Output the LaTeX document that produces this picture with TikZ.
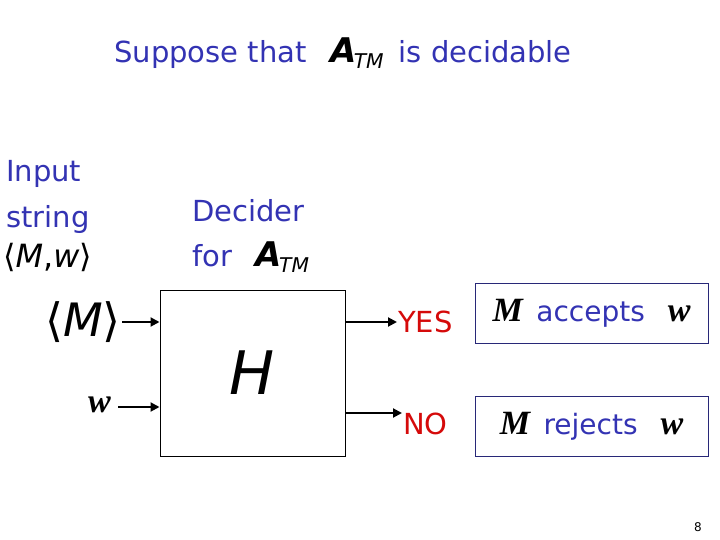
\documentclass[tikz,border=0pt]{standalone}
\usepackage{fontspec}
\usetikzlibrary{arrows.meta}
\setmainfont{DejaVu Sans}
\setsansfont{DejaVu Sans}
\newfontfamily\symbolfont{Liberation Serif}
\definecolor{slideblue}{RGB}{51,51,179}
\definecolor{slidered}{RGB}{213,10,10}
\definecolor{boxblue}{RGB}{40,40,120}
\newcommand{\atmname}{{\fontsize{34}{36}\selectfont\bfseries\itshape A}\kern-0.1em\textsubscript{\itshape TM}}
\newcommand{\bigsym}[1]{{\color{black}\fontsize{34}{38}\selectfont\symbolfont\bfseries\itshape #1}}
\begin{document}
\begin{tikzpicture}[x=1pt,y=-1pt,
    words/.style={text=slideblue, font=\fontsize{29}{33}\selectfont, inner sep=1pt},
    answer/.style={text=slidered, font=\fontsize{29}{33}\selectfont, inner sep=1pt},
    resultbox/.style={draw=boxblue, line width=0.8pt, minimum width=233, minimum height=60, text=slideblue, font=\fontsize{28}{32}\selectfont},
    feed/.style={-{Triangle[length=9pt,width=9pt]}, line width=2pt}]
\useasboundingbox (0,0) rectangle (720,540);
% title
\node[words] (title) at (343,53) {Suppose that \enspace{\color{black}\atmname}\enspace is decidable};
% input string
\node[words, anchor=west] (input) at (5,174) {Input};
\node[words, anchor=west] (string) at (5,219) {string};
\node[anchor=west, font=\fontsize{32}{36}\selectfont, inner sep=1pt] (mw) at (2,257) {⟨\textit{M},\textit{w}⟩};
% decider
\node[words, anchor=west] (decider) at (191,211) {Decider};
\node[words, anchor=west] (for) at (191,257) {for \enspace{\color{black}\atmname}};
% machine H
\node[draw, line width=1pt, minimum width=185, minimum height=166] (hbox) at (252.5,373) {};
\node[font=\fontsize{60}{64}\selectfont\itshape] (hname) at (hbox.center) {H};
% inputs
\node[anchor=east, font=\fontsize{46}{50}\selectfont, inner sep=1pt] (m) at (122,322) {⟨\textit{M}⟩};
\node[anchor=east, inner sep=1pt] (w) at (112,405) {\bigsym{w}};
\draw[feed] (m.east) -- (m.east -| hbox.west);
\draw[feed] (w.east) ++(6,2) coordinate (wtail) -- (wtail -| hbox.west);
% outputs
\node[answer, anchor=west] (yes) at (397,322) {YES};
\node[answer, anchor=west] (no) at (402,424) {NO};
\draw[feed] (hbox.east |- 0,322) coordinate (yestail) -- (yes.west |- yestail);
\draw[feed] (hbox.east |- 0,413) coordinate (notail) -- (notail -| no.west);
% results
\node[resultbox] (acc) at (591.5,313) {\bigsym{M}\, accepts \enspace\bigsym{w}};
\node[resultbox] (rej) at (591.5,426) {\bigsym{M}\, rejects \enspace\bigsym{w}};
% page number
\node[font=\fontsize{12}{14}\selectfont] (page) at (698,527) {8};
\end{tikzpicture}
\end{document}
